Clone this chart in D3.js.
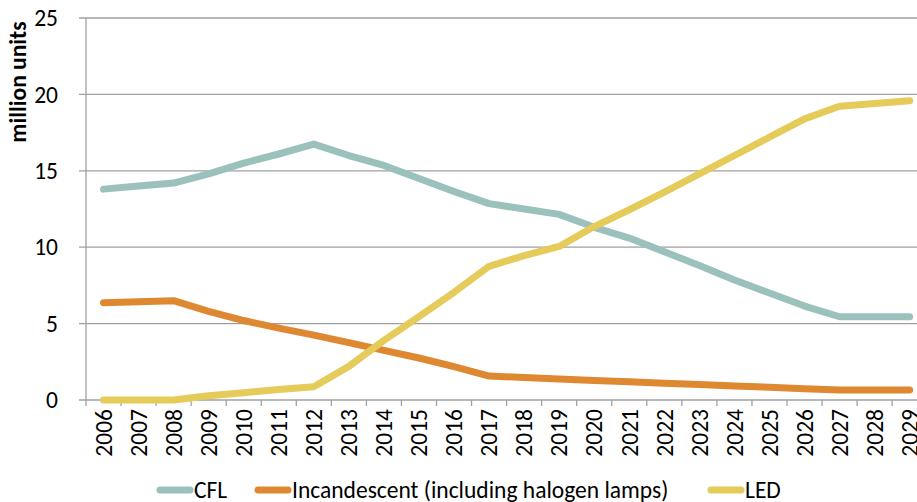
<!DOCTYPE html>
<html>
<head>
<meta charset="utf-8">
<script src="https://cdn.jsdelivr.net/npm/d3@7"></script>
<style>
  html, body { margin: 0; padding: 0; background: #fff; }
  svg { display: block; }
  text { font-family: Carlito, Calibri, Lato, "Liberation Sans", sans-serif; fill: #000; }
</style>
</head>
<body>
<svg id="chart" width="917" height="502"></svg>
<script>
const years = ["2006","2007","2008","2009","2010","2011","2012","2013","2014","2015","2016","2017","2018","2019","2020","2021","2022","2023","2024","2025","2026","2027","2028","2029"];
const cfl = [13.8,14.0,14.2,14.8,15.5,16.1,16.75,16.0,15.35,14.5,13.65,12.85,12.5,12.15,11.3,10.6,9.7,8.8,7.85,7.0,6.15,5.45,5.45,5.45];
const incandescent = [6.37,6.43,6.5,5.8,5.2,4.7,4.25,3.75,3.25,2.75,2.18,1.57,1.47,1.37,1.28,1.19,1.1,1.01,0.92,0.83,0.74,0.65,0.65,0.65];
const led = [0,0,0,0.28,0.48,0.68,0.87,2.2,3.9,5.45,7.05,8.75,9.45,10.05,11.35,12.45,13.6,14.8,16.0,17.2,18.4,19.22,19.4,19.58];
const yTicks = [0,5,10,15,20,25];
const seriesNames = ["CFL","Incandescent (including halogen lamps)","LED"];
const seriesColors = ["#9BC1BC","#DE8832","#E4CB5A"];
const seriesValues = [cfl, incandescent, led];

const svg = d3.select("#chart");
const mLeft = 86, mTop = 18, mBottom = 400, bandW = 35.05;
const fs = 23.5;
const x = d3.scaleBand().domain(years).range([mLeft, mLeft + bandW * years.length]).paddingInner(0).paddingOuter(0);
const y = d3.scaleLinear().domain([0, 25]).range([mBottom, mTop]);

// gridlines
svg.append("g").selectAll("line").data(yTicks).join("line")
  .attr("x1", mLeft - 7).attr("x2", 917)
  .attr("y1", d => y(d)).attr("y2", d => y(d))
  .attr("stroke", "#A0A0A0").attr("stroke-width", 1.3);

// y axis line
svg.append("line").attr("x1", mLeft).attr("x2", mLeft).attr("y1", mTop).attr("y2", mBottom + 6)
  .attr("stroke", "#A0A0A0").attr("stroke-width", 1.3);

// x ticks at band boundaries
const boundaries = years.map(d => x(d)).concat([x(years[years.length-1]) + x.bandwidth()]);
svg.append("g").selectAll("line").data(boundaries.slice(1)).join("line")
  .attr("x1", d => d).attr("x2", d => d).attr("y1", mBottom).attr("y2", mBottom + 6)
  .attr("stroke", "#A0A0A0").attr("stroke-width", 1.3);

// y tick labels
svg.append("g").selectAll("text").data(yTicks).join("text")
  .attr("x", 58).attr("y", d => y(d)).attr("dy", "0.35em")
  .attr("text-anchor", "end").attr("font-size", fs).text(d => d);

// x tick labels
svg.append("g").selectAll("text").data(years).join("text")
  .attr("transform", d => `translate(${x(d) + x.bandwidth()/2},409) rotate(-90)`)
  .attr("dy", "0.35em").attr("text-anchor", "end").attr("font-size", fs).text(d => d);

// y axis title
svg.append("text").attr("transform", "translate(18,82) rotate(-90)")
  .attr("dy", "0.35em").attr("text-anchor", "middle").attr("font-weight", "bold").attr("font-size", fs)
  .text("million units");

// lines
const line = d3.line().x((d, i) => x(years[i]) + x.bandwidth()/2).y(d => y(d));
svg.append("g").selectAll("path").data(seriesValues).join("path")
  .attr("d", d => line(d)).attr("fill", "none")
  .attr("stroke", (d, i) => seriesColors[i]).attr("stroke-width", 7)
  .attr("stroke-linecap", "round").attr("stroke-linejoin", "round");

// legend
const legendX = [157, 255, 708];
const lg = svg.append("g").selectAll("g").data(seriesNames).join("g")
  .attr("transform", (d, i) => `translate(${legendX[i]},490)`);
lg.append("line").attr("x1", 3).attr("x2", 33).attr("y1", 0).attr("y2", 0)
  .attr("stroke", (d, i) => seriesColors[i]).attr("stroke-width", 7).attr("stroke-linecap", "round");
lg.append("text").attr("x", 37).attr("dy", "0.35em").attr("font-size", fs).text(d => d);
</script>
</body>
</html>
